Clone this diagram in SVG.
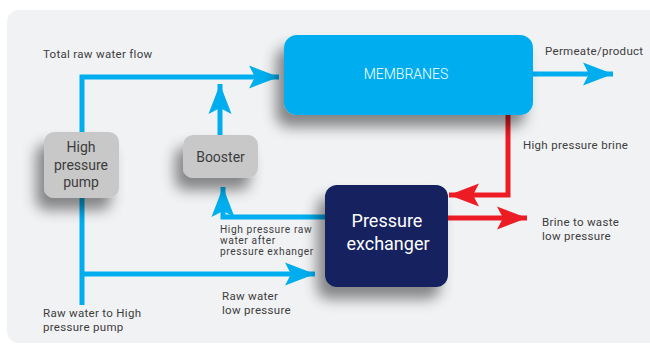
<svg xmlns="http://www.w3.org/2000/svg" width="650" height="345" viewBox="0 0 650 345">
<defs>
<style>
.lbl{font-family:Roboto,"Liberation Sans",sans-serif;font-size:11.5px;letter-spacing:0.3px;fill:#3d3d3d}
.sm{font-size:10.2px;letter-spacing:0.6px}
.blue{fill:none;stroke:#00aeef;stroke-width:5}
.red{fill:none;stroke:#ed1c24;stroke-width:5}
.node-t{font-family:Roboto,"Liberation Sans",sans-serif;text-anchor:middle}
</style>
<filter id="sh" x="-40%" y="-40%" width="180%" height="200%">
<feDropShadow dx="-8" dy="12" stdDeviation="7" flood-color="#000" flood-opacity="0.45"/>
</filter>
<marker id="ab" markerUnits="userSpaceOnUse" viewBox="-31 -13 32 26" refX="0" refY="0" markerWidth="32" markerHeight="26" orient="auto">
<path d="M0,0 L-30,-11.5 L-24,0 L-30,11.5 Z" fill="#00aeef"/>
</marker>
<marker id="ar" markerUnits="userSpaceOnUse" viewBox="-31 -13 32 26" refX="0" refY="0" markerWidth="32" markerHeight="26" orient="auto">
<path d="M0,0 L-30,-11.5 L-24,0 L-30,11.5 Z" fill="#ed1c24"/>
</marker>
</defs>
<rect x="7" y="10" width="660" height="333" rx="12" fill="#f1f2f4"/>

<g id="connectors">
<path class="blue" d="M82,132 V77 H279" marker-end="url(#ab)"/>
<path class="blue" d="M220,135 V84" marker-end="url(#ab)"/>
<path class="blue" d="M82,198 V305"/>
<path class="blue" d="M82,274 H315" marker-end="url(#ab)"/>
<path class="blue" d="M326,217 H223 V187" marker-end="url(#ab)"/>
<path class="blue" d="M530,74 H613" marker-end="url(#ab)"/>
<path class="red" d="M508,112 V195 H449" marker-end="url(#ar)"/>
<path class="red" d="M446,218 H527" marker-end="url(#ar)"/>
</g>

<g id="membranes">
<rect x="284" y="35" width="249" height="80" rx="13" fill="#00aeef" filter="url(#sh)"/>
<text class="node-t" x="406" y="79" font-size="14" font-weight="300" fill="#fff">MEMBRANES</text>
</g>
<g id="pump">
<rect x="44" y="132" width="75" height="66" rx="10" fill="#c8c8c8" filter="url(#sh)"/>
<text class="node-t" x="81" y="152" font-size="14" fill="#3d3d3d">High</text>
<text class="node-t" x="81" y="170" font-size="14" fill="#3d3d3d">pressure</text>
<text class="node-t" x="81" y="187" font-size="14" fill="#3d3d3d">pump</text>
</g>
<g id="booster">
<rect x="183" y="135" width="75" height="43" rx="10" fill="#c8c8c8" filter="url(#sh)"/>
<text class="node-t" x="220.5" y="162" font-size="14" fill="#3d3d3d">Booster</text>
</g>
<g id="exchanger">
<rect x="325" y="185" width="123" height="102" rx="12" fill="#12215f" filter="url(#sh)"/>
<text class="node-t" x="387" y="227" font-size="18" fill="#fff">Pressure</text>
<text class="node-t" x="388" y="250" font-size="18" fill="#fff">exchanger</text>
</g>

<g id="labels">
<text class="lbl" x="43" y="58">Total raw water flow</text>
<text class="lbl" x="545" y="55">Permeate/product</text>
<text class="lbl" x="523" y="149">High pressure brine</text>
<text class="lbl" x="542" y="226">Brine to waste</text>
<text class="lbl" x="542" y="240">low pressure</text>
<text class="lbl sm" x="220" y="233">High pressure raw</text>
<text class="lbl sm" x="220" y="244">water after</text>
<text class="lbl sm" x="220" y="255">pressure exhanger</text>
<text class="lbl" x="222" y="300">Raw water</text>
<text class="lbl" x="222" y="314">low pressure</text>
<text class="lbl" x="43" y="317">Raw water to High</text>
<text class="lbl" x="43" y="331">pressure pump</text>
</g>
</svg>
